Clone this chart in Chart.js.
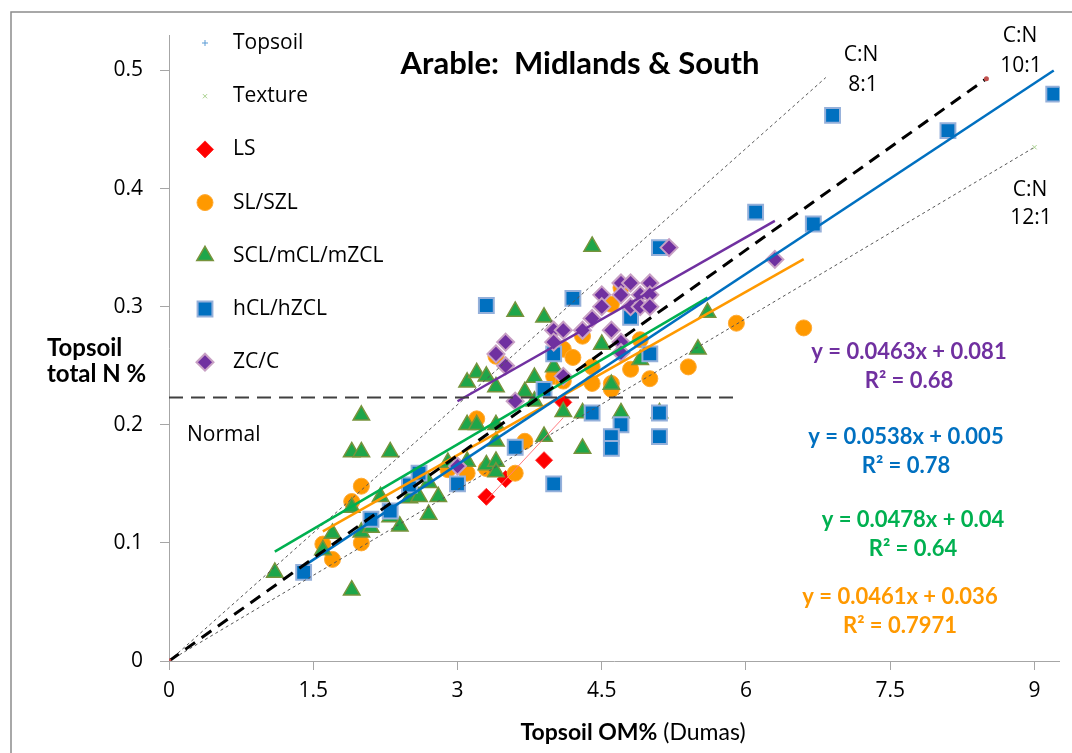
<!DOCTYPE html>
<html>
<head>
<meta charset="utf-8">
<title>Arable: Midlands &amp; South</title>
<script src="https://cdn.jsdelivr.net/npm/chart.js@4.4.1/dist/chart.umd.min.js"></script>
<style>
  html, body { margin: 0; padding: 0; background: #fff; }
  #wrap { width: 1072px; height: 753px; }
</style>
</head>
<body>
<div id="wrap"><canvas id="chart" width="1072" height="753"></canvas></div>
<script>
// Topsoil OM% (Dumas) against topsoil total N %, arable soils split by texture group

const xTicks = [0, 1.5, 3, 4.5, 6, 7.5, 9];
const yTicks = [0, 0.1, 0.2, 0.3, 0.4, 0.5];

// LS
const lsX = [3.3, 3.5, 3.9, 4.1];
const lsY = [0.139, 0.154, 0.170, 0.219];

// SL/SZL
const slX = [1.6, 1.7, 1.9, 2.0, 2.0, 2.9, 3.1, 3.2, 3.3, 3.6, 3.7, 3.4, 4.0, 4.1, 4.1,
             4.2, 4.3, 4.4, 4.4, 4.6, 4.6, 4.6, 4.7, 4.8, 4.9, 5.0, 5.4, 5.9, 6.6];
const slY = [0.099, 0.086, 0.135, 0.148, 0.100, 0.162, 0.159, 0.205, 0.163, 0.159, 0.186, 0.258, 0.241, 0.237, 0.264,
             0.257, 0.275, 0.249, 0.235, 0.302, 0.235, 0.230, 0.316, 0.247, 0.272, 0.239, 0.249, 0.286, 0.282];

// SCL/mCL/mZCL
const sclX = [1.1, 1.9, 1.6, 1.7, 1.9, 2.0, 2.1, 2.2, 2.3, 2.4, 2.5, 2.6, 2.7, 2.7, 2.8,
              2.9, 3.1, 3.3, 3.4, 3.4, 2.0, 1.9, 2.0, 2.3, 3.1, 3.2, 3.4, 3.4, 3.1, 3.2,
              3.3, 3.4, 3.7, 3.8, 4.0, 3.9, 4.1, 4.3, 4.3, 4.7, 5.1, 4.6, 4.9, 4.5, 3.6,
              3.9, 4.4, 5.6, 5.5, 3.8];
const sclY = [0.075, 0.060, 0.094, 0.108, 0.130, 0.109, 0.113, 0.139, 0.122, 0.114, 0.138, 0.139, 0.124, 0.151, 0.139,
              0.168, 0.169, 0.166, 0.169, 0.160, 0.208, 0.177, 0.177, 0.177, 0.200, 0.200, 0.200, 0.186, 0.236, 0.244,
              0.241, 0.232, 0.228, 0.240, 0.249, 0.190, 0.211, 0.210, 0.180, 0.210, 0.210, 0.234, 0.255, 0.268, 0.296,
              0.291, 0.351, 0.295, 0.264, 0.220];

// hCL/hZCL
const hclX = [1.4, 2.1, 2.3, 2.5, 2.6, 3.0, 3.3, 4.2, 4.8, 4.0, 5.0, 3.9, 5.1, 4.4, 4.7,
              4.6, 4.6, 5.1, 5.1, 3.6, 4.0, 6.1, 6.7, 6.9, 8.1, 9.2];
const hclY = [0.075, 0.120, 0.127, 0.149, 0.159, 0.150, 0.301, 0.307, 0.291, 0.260, 0.260, 0.230, 0.350, 0.210, 0.200,
              0.190, 0.180, 0.210, 0.190, 0.181, 0.150, 0.380, 0.370, 0.462, 0.449, 0.480];

// ZC/C
const zcX = [4.7, 4.8, 5.0, 4.5, 4.7, 4.9, 5.0, 4.5, 4.8, 4.9, 5.0, 4.4, 4.6, 4.3, 4.0,
             4.1, 4.0, 4.7, 3.5, 3.4, 3.5, 4.1, 3.6, 4.7, 5.2, 3.0, 6.3];
const zcY = [0.320, 0.320, 0.320, 0.310, 0.310, 0.310, 0.310, 0.300, 0.300, 0.300, 0.300, 0.290, 0.280, 0.280, 0.280,
             0.280, 0.270, 0.270, 0.270, 0.260, 0.250, 0.241, 0.220, 0.261, 0.350, 0.165, 0.340];

// fitted trend lines: ZC/C, hCL/hZCL, SCL/mCL/mZCL, SL/SZL
const fitSlope = [0.0463, 0.0538, 0.0478, 0.0461];
const fitIntercept = [0.081, 0.005, 0.04, 0.036];
const fitR2 = ['0.68', '0.78', '0.64', '0.7971'];
const fitFrom = [3.0, 1.4, 1.1, 1.6];
const fitTo = [6.3, 9.2, 5.6, 6.6];

// LS trend
const lsFitX = [3.3, 4.1];
const lsFitY = [0.136, 0.206];

// C:N reference lines 8:1, 10:1, 12:1 (from origin)
const cnLabels = ['8:1', '10:1', '12:1'];
const cnEndX = [6.83, 8.5, 9.0];
const cnEndY = [0.494, 0.493, 0.435];

// "Normal" threshold
const normalY = 0.223;
const normalTo = 5.9;

const purple = '#7030A0', blue = '#0070C0', green = '#00B050', orange = '#FF9900';
const fitColors = [purple, blue, green, orange];

const pts = (xs, ys) => xs.map((x, i) => ({ x: x, y: ys[i] }));

const lsStyle = { pointStyle: 'rectRot', radius: 8.5, bg: '#FF0000', border: '#FF3030', bw: 1 };
const slStyle = { pointStyle: 'circle', radius: 8, bg: '#FF9900', border: '#FFAA33', bw: 1 };
const sclStyle = { pointStyle: 'triangle', radius: 9.5, bg: '#1EA64A', border: '#77933C', bw: 1.5 };
const hclStyle = { pointStyle: 'rect', radius: 10.5, bg: '#0070C0', border: '#95B0DA', bw: 2 };
const zcStyle = { pointStyle: 'rectRot', radius: 8.5, bg: '#7030A0', border: '#C8A0C4', bw: 2 };

function markerSet(label, data, st, order) {
  return {
    label: label,
    data: data,
    order: order,
    showLine: false,
    pointStyle: st.pointStyle,
    pointRadius: st.radius,
    pointBackgroundColor: st.bg,
    pointBorderColor: st.border,
    pointBorderWidth: st.bw,
  };
}

function lineSet(label, data, color, width, dash, order) {
  return {
    label: label,
    data: data,
    order: order,
    showLine: true,
    borderColor: color,
    borderWidth: width,
    borderDash: dash,
    pointRadius: 0,
    fill: false,
  };
}

const datasets = [];

// reference lines
datasets.push(lineSet('C:N 8:1', [{ x: 0, y: 0 }, { x: cnEndX[0], y: cnEndY[0] }], '#555555', 1, [3, 3], 3));
datasets.push(Object.assign(
  lineSet('C:N 10:1', [{ x: 0, y: 0 }, { x: cnEndX[1], y: cnEndY[1] }], '#000000', 3, [12, 8], 1),
  { pointRadius: 2.5, pointBackgroundColor: '#C0504D', pointBorderWidth: 0 }));
datasets.push(Object.assign(
  lineSet('C:N 12:1', [{ x: 0, y: 0 }, { x: cnEndX[2], y: cnEndY[2] }], '#555555', 1, [3, 3], 3),
  { pointRadius: [0, 3], pointStyle: 'crossRot', pointBorderColor: '#A9D18E', pointBorderWidth: 1 }));
datasets.push(lineSet('Normal', [{ x: 0, y: normalY }, { x: normalTo, y: normalY }], '#404040', 2, [14, 8], 1));

// trend lines
fitSlope.forEach((m, i) => {
  const c = fitIntercept[i];
  datasets.push(lineSet('fit' + i, [
    { x: fitFrom[i], y: m * fitFrom[i] + c },
    { x: fitTo[i], y: m * fitTo[i] + c },
  ], fitColors[i], 2.5, [], 2));
});
datasets.push(lineSet('LS fit', pts(lsFitX, lsFitY), '#FF7C80', 1, [], 2));

// soil texture groups (lower order drawn on top)
datasets.push(markerSet('ZC/C', pts(zcX, zcY), zcStyle, 10));
datasets.push(markerSet('hCL/hZCL', pts(hclX, hclY), hclStyle, 11));
datasets.push(markerSet('SCL/mCL/mZCL', pts(sclX, sclY), sclStyle, 12));
datasets.push(markerSet('SL/SZL', pts(slX, slY), slStyle, 13));
datasets.push(markerSet('LS', pts(lsX, lsY), lsStyle, 14));

const legendItems = [
  { text: 'Topsoil', st: { pointStyle: 'cross', radius: 3, bg: '#5B9BD5', border: '#5B9BD5', bw: 1 } },
  { text: 'Texture', st: { pointStyle: 'crossRot', radius: 3, bg: '#A9D18E', border: '#A9D18E', bw: 1 } },
  { text: 'LS', st: lsStyle },
  { text: 'SL/SZL', st: slStyle },
  { text: 'SCL/mCL/mZCL', st: sclStyle },
  { text: 'hCL/hZCL', st: hclStyle },
  { text: 'ZC/C', st: zcStyle },
];

function drawMarker(ctx, st, x, y) {
  ctx.save();
  ctx.fillStyle = st.bg;
  ctx.strokeStyle = st.border;
  ctx.lineWidth = st.bw;
  Chart.helpers.drawPoint(ctx, { pointStyle: st.pointStyle, radius: st.radius, rotation: 0, borderWidth: st.bw }, x, y);
  ctx.restore();
}

function text(ctx, str, x, y, font, color, align) {
  ctx.font = font;
  ctx.fillStyle = color || '#000';
  ctx.textAlign = align || 'center';
  ctx.textBaseline = 'middle';
  ctx.fillText(str, x, y);
}

const overlay = {
  id: 'overlay',
  beforeDraw(chart) {
    const ctx = chart.ctx;
    ctx.save();
    ctx.fillStyle = '#fff';
    ctx.fillRect(0, 0, chart.width, chart.height);
    ctx.strokeStyle = '#8C8C8C';
    ctx.lineWidth = 1.5;
    ctx.strokeRect(11, 12, chart.width + 20, chart.height + 20);
    ctx.restore();
  },
  afterDraw(chart) {
    const ctx = chart.ctx;
    ctx.save();

    text(ctx, 'Arable:  Midlands & South', 580, 64, 'bold 31px Lato', '#000');

    // legend
    legendItems.forEach((it, i) => {
      const y = 43 + i * 53.2;
      drawMarker(ctx, it.st, 205, y);
      text(ctx, it.text, 233, y, '21px "Open Sans"', '#000', 'left');
    });

    // C:N labels
    text(ctx, 'C:N', 861, 55, '21px "Open Sans"');
    text(ctx, cnLabels[0], 863, 85, '21px "Open Sans"');
    text(ctx, 'C:N', 1020, 36, '21px "Open Sans"');
    text(ctx, cnLabels[1], 1021, 66, '21px "Open Sans"');
    text(ctx, 'C:N', 1030, 190, '21px "Open Sans"');
    text(ctx, cnLabels[2], 1031, 218, '21px "Open Sans"');

    text(ctx, 'Normal', 187, 435, '21px "Open Sans"', '#000', 'left');

    // trend line equations
    const eqX = [909, 906, 913, 900];
    const eqY = [352, 437, 520, 597];
    fitSlope.forEach((m, i) => {
      const eq = 'y = ' + m + 'x + ' + fitIntercept[i];
      text(ctx, eq, eqX[i], eqY[i], 'bold 22px Lato', fitColors[i]);
      text(ctx, 'R\u00B2 = ' + fitR2[i], eqX[i], eqY[i] + 29, 'bold 22px Lato', fitColors[i]);
    });

    // axis titles
    text(ctx, 'Topsoil', 47, 348, 'bold 24px Lato', '#000', 'left');
    text(ctx, 'total N %', 47, 374, 'bold 24px Lato', '#000', 'left');

    ctx.font = 'bold 23px Lato';
    const a = 'Topsoil OM%';
    const wa = ctx.measureText(a).width;
    ctx.font = '23px Lato';
    const b = ' (Dumas)';
    const wb = ctx.measureText(b).width;
    const x0 = 633 - (wa + wb) / 2;
    text(ctx, a, x0, 733, 'bold 23px Lato', '#000', 'left');
    text(ctx, b, x0 + wa, 733, '23px Lato', '#000', 'left');

    ctx.restore();
  },
};

new Chart(document.getElementById('chart'), {
  type: 'scatter',
  data: { datasets: datasets },
  plugins: [overlay],
  options: {
    responsive: false,
    animation: false,
    layout: { padding: { top: 35, right: 10, left: 0, bottom: 0 } },
    plugins: {
      legend: { display: false },
      tooltip: { enabled: false },
      title: { display: false },
    },
    scales: {
      x: {
        type: 'linear',
        min: 0,
        max: 9.26,
        afterFit: (s) => { s.height = 92; },
        afterBuildTicks: (s) => { s.ticks = xTicks.map((v) => ({ value: v })); },
        ticks: {
          color: '#000',
          font: { family: 'Open Sans', size: 21 },
          padding: 8,
          maxRotation: 0,
          callback: (v) => String(v),
        },
        grid: { drawOnChartArea: false, drawTicks: true, tickLength: 9, color: '#A6A6A6' },
        border: { display: true, color: '#A6A6A6', width: 1 },
      },
      y: {
        type: 'linear',
        min: 0,
        max: 0.53,
        afterFit: (s) => { s.width = 169; },
        afterBuildTicks: (s) => { s.ticks = yTicks.map((v) => ({ value: v })); },
        ticks: {
          color: '#000',
          font: { family: 'Open Sans', size: 21 },
          padding: 17,
          callback: (v) => (v === 0 ? '0' : v.toFixed(1)),
        },
        grid: { drawOnChartArea: false, drawTicks: true, tickLength: 9, color: '#A6A6A6' },
        border: { display: true, color: '#A6A6A6', width: 1 },
      },
    },
  },
});
</script>
</body>
</html>
